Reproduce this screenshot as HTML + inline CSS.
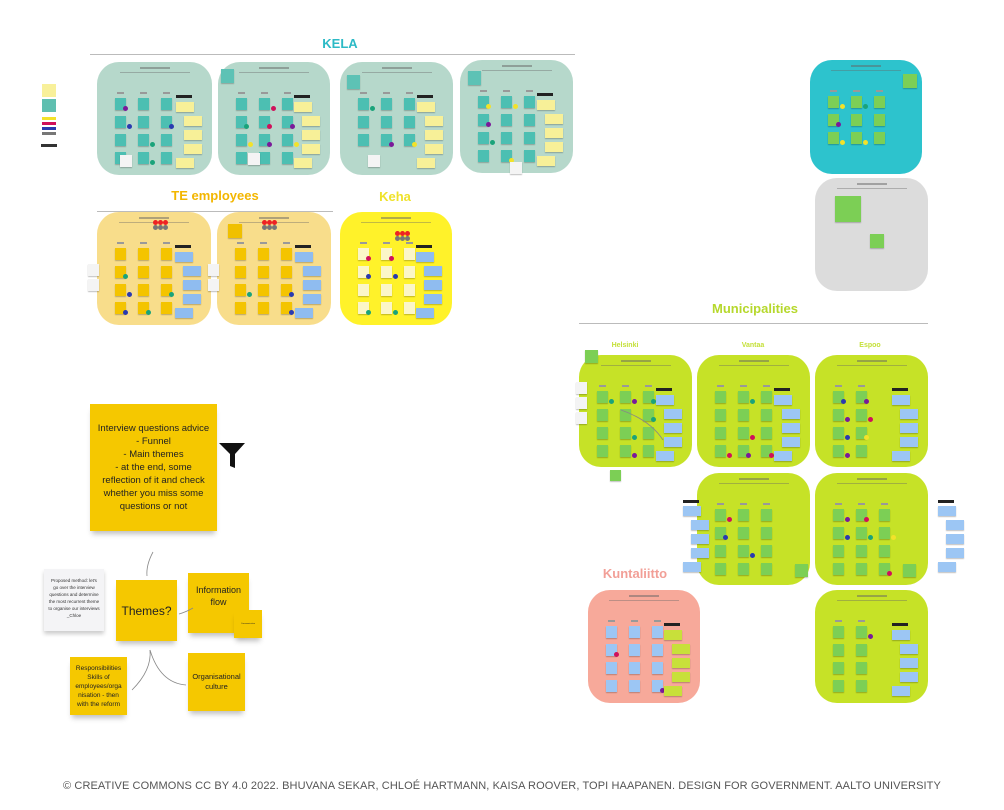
<!DOCTYPE html>
<html><head><meta charset="utf-8">
<style>
html,body{margin:0;padding:0;background:#fff;}
body{width:1004px;height:810px;position:relative;overflow:hidden;font-family:"Liberation Sans",sans-serif;}
.a{position:absolute;}
.p{position:absolute;border-radius:22px;}
.t{position:absolute;font-weight:bold;text-align:center;white-space:nowrap;}
.n{position:absolute;box-shadow:0 1px 1px rgba(0,0,0,.25);}
.d{position:absolute;width:5px;height:5px;border-radius:50%;}
.ln{position:absolute;height:1px;background:#bbb;}
.s{position:absolute;background:#f5c800;box-shadow:0 5px 5px -2px rgba(0,0,0,.25);display:flex;align-items:center;justify-content:center;text-align:center;color:#222;box-sizing:border-box;}
</style></head><body>

<div class="t" style="left:300px;top:36px;width:80px;font-size:13px;color:#2cbac6;">KELA</div>
<div class="ln" style="left:90px;top:54px;width:485px;"></div>
<div class="t" style="left:150px;top:188px;width:130px;font-size:13px;color:#f3b600;">TE employees</div>
<div class="ln" style="left:97px;top:211px;width:236px;"></div>
<div class="t" style="left:365px;top:189px;width:60px;font-size:13px;color:#efe22a;">Keha</div>
<div class="t" style="left:690px;top:301px;width:130px;font-size:13px;color:#b6d82c;">Municipalities</div>
<div class="ln" style="left:579px;top:323px;width:349px;"></div>
<div class="t" style="left:600px;top:342px;width:50px;font-size:7px;color:#c5e03a;">Helsinki</div>
<div class="t" style="left:728px;top:342px;width:50px;font-size:7px;color:#c5e03a;">Vantaa</div>
<div class="t" style="left:845px;top:342px;width:50px;font-size:7px;color:#c5e03a;">Espoo</div>
<div class="t" style="left:590px;top:566px;width:90px;font-size:13px;color:#f29f97;">Kuntaliitto</div>

<div class="a" style="left:42px;top:84px;width:14px;height:13px;background:#f8f09a;"></div>
<div class="a" style="left:42px;top:99px;width:14px;height:13px;background:#5fbfb0;"></div>
<div class="a" style="left:42px;top:117px;width:14px;height:3px;background:#f2e22a;"></div>
<div class="a" style="left:42px;top:122px;width:14px;height:3px;background:#d0105a;"></div>
<div class="a" style="left:42px;top:127px;width:14px;height:3px;background:#2a3ab0;"></div>
<div class="a" style="left:42px;top:132px;width:14px;height:3px;background:#777;"></div>
<div class="a" style="left:41px;top:144px;width:16px;height:3px;background:#333;"></div>

<div id="root"></div>

<div class="s" style="left:90px;top:404px;width:127px;height:127px;font-size:9.5px;line-height:13px;padding:0 6px;">Interview questions advice<br>- Funnel<br>- Main themes<br>- at the end, some reflection of it and check whether you miss some questions or not</div>
<svg class="a" style="left:218px;top:440px" width="28" height="30"><path d="M1 3H27L17 14V28L12 26V14Z" fill="#111"/></svg>
<div class="a" style="left:44px;top:569px;width:60px;height:62px;background:#f4f4f6;box-shadow:0 3px 4px rgba(0,0,0,.2);font-size:4.5px;line-height:7px;text-align:center;color:#333;padding:8px 4px 0;box-sizing:border-box;">Proposed method: let's go over the interview questions and determine the most recurrent theme to organise our interviews _Chloe</div>
<div class="s" style="left:116px;top:580px;width:61px;height:61px;font-size:12px;">Themes?</div>
<div class="s" style="left:188px;top:573px;width:61px;height:60px;font-size:9px;line-height:12px;padding:0 6px 14px;">Information flow</div>
<div class="s" style="left:234px;top:610px;width:28px;height:28px;font-size:2px;">Communication</div>
<div class="s" style="left:70px;top:657px;width:57px;height:58px;font-size:6.5px;line-height:9px;padding:0 3px;">Responsibilities Skills of employees/orga nisation - then with the reform</div>
<div class="s" style="left:188px;top:653px;width:57px;height:58px;font-size:7.5px;line-height:10px;padding:0 5px;">Organisational culture</div>
<svg class="a" style="left:0;top:0" width="1004" height="810" fill="none" stroke="#888" stroke-width="0.8">
<path d="M153 552 Q146 565 147 576"/><path d="M179 614 Q186 612 193 608"/>
<path d="M150 650 Q152 670 132 690"/><path d="M150 650 Q160 683 186 685"/>
<path d="M621 410 Q650 420 663 440"/>
</svg>

<div class="a" style="left:0;top:780px;width:1004px;text-align:center;font-size:11px;color:#555;letter-spacing:0.1px;">© CREATIVE COMMONS CC BY 4.0 2022. BHUVANA SEKAR, CHLOÉ HARTMANN, KAISA ROOVER, TOPI HAAPANEN. DESIGN FOR GOVERNMENT. AALTO UNIVERSITY</div>

<script>
var R=document.getElementById('root');
function el(c,s){var e=document.createElement('div');e.className=c;e.style.cssText=s;R.appendChild(e);return e;}
var DC=['#d0105a','#2a3ab0','#f2e22a','#1aa37a','#7a1a9a'];
var seed=3;function rnd(){seed=(seed*9301+49297)%233280;return seed/233280;}
function panel(x,y,w,h,bg,nc,side,rows,cols,dots){
 el('p','left:'+x+'px;top:'+y+'px;width:'+(w)+'px;height:'+(h)+'px;background:'+bg+';');
 el('a','left:'+(x+w/2-15)+'px;top:'+(y+5)+'px;width:30px;height:2px;background:#666;opacity:.5');
 el('a','left:'+(x+w/2-35)+'px;top:'+(y+10)+'px;width:70px;height:1px;background:#666;opacity:.4');
 for(var c=0;c<cols;c++){
  var cx=x+18+c*23;
  el('a','left:'+(cx+2)+'px;top:'+(y+30)+'px;width:7px;height:2px;background:#999');
  for(var r=0;r<rows;r++){
   var ny=y+36+r*18;
   el('n','left:'+cx+'px;top:'+ny+'px;width:11px;height:12px;background:'+nc+';');
   if(rnd()<dots) el('d','left:'+(cx+8+(rnd()<.5?0:4))+'px;top:'+(ny+8)+'px;background:'+DC[Math.floor(rnd()*5)]);
  }
 }
 if(side){
  el('a','left:'+(x+w-36)+'px;top:'+(y+33)+'px;width:16px;height:3px;background:#222');
  for(var i=0;i<5;i++){
   var sx=x+w-(i%4==0?36:28);
   el('n','left:'+sx+'px;top:'+(y+40+i*14)+'px;width:18px;height:10px;background:'+side+';');
  }
 }
}
var kt='#b6d8cb';
panel(97,62,115,113,kt,'#4cbfb2','#f7f098',4,3,.5);
panel(218,62,112,113,kt,'#4cbfb2','#f7f098',4,3,.5);
panel(340,62,113,113,kt,'#4cbfb2','#f7f098',3,3,.5);
panel(460,60,113,113,kt,'#4cbfb2','#f7f098',4,3,.5);
[[120,155],[248,153],[368,155],[510,162]].forEach(function(p){el('n','left:'+p[0]+'px;top:'+p[1]+'px;width:12px;height:12px;background:#f4f4f4;');});
[[221,69],[347,75],[468,71]].forEach(function(p){el('n','left:'+p[0]+'px;top:'+p[1]+'px;width:13px;height:14px;background:#5dc2b5;');});
panel(97,212,114,113,'#f8dd8b','#f4c400','#8fbcf0',4,3,.4);
panel(217,212,114,113,'#f8dd8b','#f4c400','#8fbcf0',4,3,.4);
panel(340,212,112,113,'#fff22a','#fbf6c8','#8fbcf0',4,3,.3);
[[88,264],[88,279],[208,264],[208,279]].forEach(function(p){el('n','left:'+p[0]+'px;top:'+p[1]+'px;width:11px;height:12px;background:#f4f4f4;');});
el('n','left:228px;top:224px;width:14px;height:14px;background:#f0c000;');
[[153,220],[262,220],[395,231]].forEach(function(p){for(var i=0;i<2;i++)for(var j=0;j<3;j++)el('d','left:'+(p[0]+j*5)+'px;top:'+(p[1]+i*5)+'px;background:'+(i?'#777':'#e22'));});
panel(810,60,112,114,'#2dc3cd','#7ccf55',null,3,3,.4);
el('n','left:903px;top:74px;width:14px;height:14px;background:#7ccf55;');
panel(815,178,113,113,'#dcdcdc','#dcdcdc',null,0,0,0);
el('n','left:835px;top:196px;width:26px;height:26px;background:#7ccf55;');
el('n','left:870px;top:234px;width:14px;height:14px;background:#7ccf55;');
var lg='#c6e227',gn='#7ccf55',bl='#9cc6f4';
panel(579,355,113,112,lg,gn,bl,4,3,.4);
panel(697,355,113,112,lg,gn,bl,4,3,.4);
panel(815,355,113,112,lg,gn,bl,4,2,.4);
panel(697,473,113,112,lg,gn,null,4,3,.4);
panel(815,473,113,112,lg,gn,null,4,3,.4);
panel(815,590,113,113,lg,gn,bl,4,2,.1);
panel(588,590,112,113,'#f7a99a',bl,'#c8e03a',4,3,.3);
el('n','left:585px;top:350px;width:13px;height:13px;background:#7ccf55;');
el('n','left:610px;top:470px;width:11px;height:11px;background:#7ccf55;');
el('n','left:795px;top:564px;width:13px;height:13px;background:#7ccf55;');
el('n','left:903px;top:564px;width:13px;height:13px;background:#7ccf55;');
[[576,382],[576,397],[576,412]].forEach(function(p){el('n','left:'+p[0]+'px;top:'+p[1]+'px;width:11px;height:12px;background:#f4f4f4;');});
[[683,500],[938,500]].forEach(function(p){el('a','left:'+p[0]+'px;top:'+p[1]+'px;width:16px;height:3px;background:#222');for(var i=0;i<5;i++)el('n','left:'+(p[0]+(i%4==0?0:8))+'px;top:'+(p[1]+6+i*14)+'px;width:18px;height:10px;background:#9cc6f4;');});
</script>
</body></html>
